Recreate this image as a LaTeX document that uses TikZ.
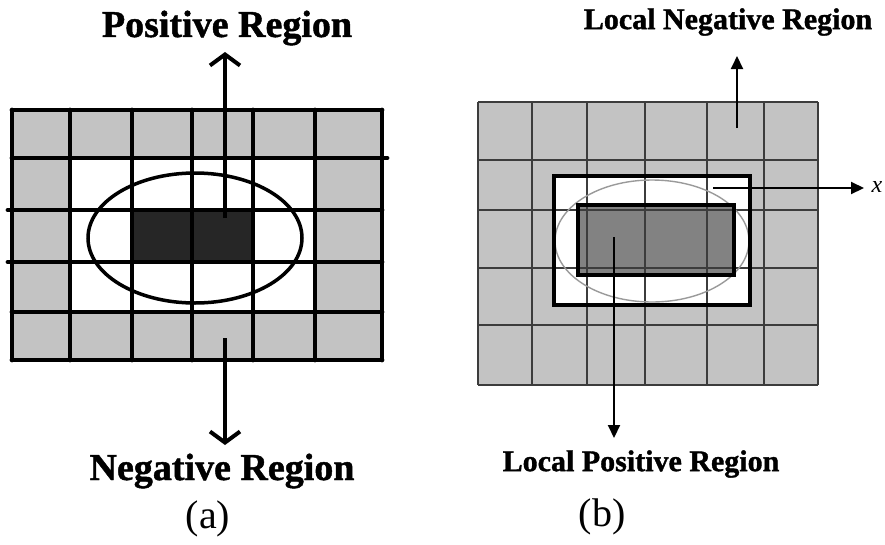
\documentclass[tikz,border=0pt]{standalone}
\usepackage{fontspec}
\setmainfont{Liberation Serif}
\newfontfamily\heavyfont{Liberation Serif}[UprightFont=* Bold, FakeBold=1.2]
\usetikzlibrary{arrows.meta,shapes.geometric}
\definecolor{cellgray}{HTML}{C3C3C3}
\definecolor{darkcell}{HTML}{262626}
\definecolor{midcell}{HTML}{828282}
\definecolor{thingrid}{HTML}{3C3C3C}
\definecolor{ellgray}{HTML}{9A9A9A}
\tikzset{
  thickgrid/.style={line width=4.8pt, line cap=round},
  thingridline/.style={line width=1.8pt, thingrid},
  barbarrow/.style={line width=4pt, -{Straight Barb[length=11pt,width=30pt,line width=4pt]}},
  triarrow/.style={line width=2pt, -{Triangle[length=13pt,width=12pt]}},
  biglabel/.style={font=\heavyfont\fontsize{38}{40}\selectfont, inner sep=0pt},
  midlabel/.style={font=\heavyfont\fontsize{30}{32}\selectfont, inner sep=0pt},
  caplabel/.style={font=\fontsize{40}{42}\selectfont, inner sep=0pt}
}
\begin{document}
\begin{tikzpicture}[x=1pt,y=-1pt]
\useasboundingbox (0,0) rectangle (885,544);
% ---------- (a) ----------
\fill[cellgray] (12,110) rectangle (382,360);
\fill[white] (70,158) rectangle (315,312);
\fill[darkcell] (132,210) rectangle (253,262);
\foreach \x in {12,70,132,192,253,315,382} \draw[thickgrid] (\x,110) -- (\x,360);
\foreach \y in {110,312,360} \draw[thickgrid] (12,\y) -- (382,\y);
\draw[thickgrid] (12,158) -- (387,158);
\draw[thickgrid] (8,210) -- (382,210);
\draw[thickgrid] (8,262) -- (382,262);
\node[draw, line width=3.5pt, ellipse, minimum width=214pt, minimum height=130pt, inner sep=0pt] (ellA) at (195,238) {};
\coordinate (posStart) at (225,218);
\coordinate (posTip) at (225,52);
\coordinate (negStart) at (225,338);
\coordinate (negTip) at (225,445);
\draw[barbarrow] (posStart) -- (posTip);
\draw[barbarrow] (negStart) -- (negTip);
\node[biglabel] (posLab) at (227,28) {Positive Region};
\node[biglabel] (negLab) at (222,471) {Negative Region};
\node[caplabel] (capA) at (208,519) {(a)};
% ---------- (b) ----------
\fill[cellgray] (478,102) rectangle (818,385);
\fill[white] (554,176) rectangle (750,305);
\fill[midcell] (578,205) rectangle (734,275);
\foreach \x in {478,532,587,645,707,764,818} \draw[thingridline] (\x,102) -- (\x,385);
\foreach \y in {102,160,210,268,325,385} \draw[thingridline] (478,\y) -- (818,\y);
\node[draw=ellgray, line width=1.4pt, ellipse, minimum width=194pt, minimum height=122pt, inner sep=0pt] (ellB) at (652,241) {};
\draw[line width=4pt] (554,176) rectangle (750,305);
\draw[line width=3.5pt] (578,205) rectangle (734,275);
\coordinate (lpStart) at (614,237);
\coordinate (lpTip) at (614,438);
\coordinate (lnStart) at (737,128);
\coordinate (lnTip) at (737,56);
\coordinate (xStart) at (713,188);
\coordinate (xTip) at (864,188);
\draw[triarrow] (lpStart) -- (lpTip);
\draw[triarrow] (lnStart) -- (lnTip);
\draw[triarrow] (xStart) -- (xTip);
\node[midlabel] (lnLab) at (728,22) {Local Negative Region};
\node[midlabel] (lpLab) at (641,464) {Local Positive Region};
\node[font=\itshape\fontsize{24}{26}\selectfont, inner sep=0pt] (xLab) at (877,187) {x};
\node[caplabel] (capB) at (602,517) {(b)};
\end{tikzpicture}
\end{document}
